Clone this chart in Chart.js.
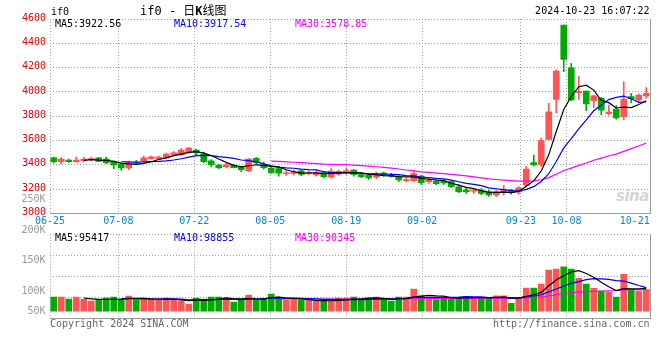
<!DOCTYPE html>
<html>
<head>
<meta charset="utf-8">
<script src="https://cdn.jsdelivr.net/npm/chart.js@4.4.1/dist/chart.umd.min.js"></script>
<style>
body { margin: 0; background: #fff; }
#wrap { position: relative; width: 660px; height: 360px; overflow: hidden; font-family: 'DejaVu Sans Mono', monospace; font-size: 10px; }
#wrap canvas { position: absolute; left: 0; }
.t { position: absolute; white-space: nowrap; line-height: 12px; }
.vl { right: 614.5px; color: #999; }
</style>
</head>
<body>
<div id="wrap">
  <canvas id="price" width="660" height="236" style="top:0"></canvas>
  <canvas id="volume" width="660" height="100" style="top:226px"></canvas>

  <div class="t" style="left:51px;top:6px;">if0</div>
  <div class="t" style="left:140px;top:3px;font-size:12px;line-height:16px;font-family:'DejaVu Sans Mono','Noto Sans CJK SC';">if0 - 日<b>K</b>线图</div>
  <div class="t" style="right:10.5px;top:5px;">2024-10-23 16:07:22</div>

  <div class="t" style="left:55px;top:18px;color:#000;">MA5:3922.56</div>
  <div class="t" style="left:174px;top:18px;color:#0000ff;">MA10:3917.54</div>
  <div class="t" style="left:295px;top:18px;color:#ff00ff;">MA30:3578.85</div>

  <div class="t" style="left:616px;top:187px;font:italic bold 15px 'DejaVu Sans';color:#d4d4d4;line-height:18px;letter-spacing:-0.5px;">sina</div>

  <div class="t vl" style="top:193px;">250K</div>
  <div class="t vl" style="top:223.5px;">200K</div>
  <div class="t vl" style="top:253.5px;">150K</div>
  <div class="t vl" style="top:284.5px;">100K</div>
  <div class="t vl" style="top:304.5px;">50K</div>

  <div class="t" style="left:55px;top:232px;color:#000;">MA5:95417</div>
  <div class="t" style="left:174px;top:232px;color:#0000ff;">MA10:98855</div>
  <div class="t" style="left:295px;top:232px;color:#ff00ff;">MA30:90345</div>

  <div class="t" style="left:50px;top:317.5px;color:#666;">Copyright 2024 SINA.COM</div>
  <div class="t" style="right:10.5px;top:317.5px;color:#666;">http://finance.sina.com.cn</div>
</div>

<script>
// x tick labels and the day index they sit on
const tickDates = ['06-25', '07-08', '07-22', '08-05', '08-19', '09-02', '09-23', '10-08', '10-21'];
const tickDays = [0, 9, 19, 29, 39, 49, 62, 68, 77];

// daily OHLC, 06-25 .. 10-23
const openP = [3457, 3426, 3440, 3426, 3434, 3443, 3457, 3448, 3426, 3405,
    3374, 3423, 3432, 3451, 3448, 3457, 3481, 3481, 3500, 3522,
    3489, 3434, 3399, 3385, 3399, 3385, 3350, 3454, 3400, 3372,
    3370, 3327, 3330, 3352, 3330, 3317, 3336, 3298, 3323, 3333,
    3358, 3320, 3316, 3298, 3333, 3317, 3303, 3270, 3270, 3308,
    3262, 3267, 3267, 3262, 3220, 3193, 3183, 3193, 3179, 3152,
    3171, 3193, 3177, 3234, 3418, 3399, 3610, 3939, 4551, 4199,
    3995, 4008, 3928, 3948, 3821, 3859, 3796, 3961, 3934, 3967];
const highP = [3465, 3462, 3448, 3465, 3462, 3465, 3460, 3465, 3434, 3410,
    3432, 3437, 3473, 3473, 3473, 3498, 3509, 3536, 3545, 3528,
    3506, 3443, 3407, 3410, 3404, 3391, 3452, 3462, 3424, 3380,
    3385, 3352, 3358, 3364, 3350, 3350, 3347, 3370, 3358, 3375,
    3363, 3330, 3325, 3341, 3341, 3330, 3311, 3290, 3352, 3317,
    3290, 3276, 3276, 3270, 3234, 3212, 3207, 3204, 3193, 3193,
    3229, 3199, 3222, 3385, 3481, 3621, 3906, 4181, 4551, 4236,
    4131, 4008, 3975, 3956, 3892, 3887, 4084, 3989, 3983, 4035];
const lowP = [3413, 3410, 3421, 3421, 3424, 3432, 3426, 3410, 3369, 3357,
    3360, 3404, 3426, 3446, 3443, 3451, 3476, 3476, 3495, 3473,
    3418, 3383, 3369, 3374, 3374, 3344, 3345, 3407, 3365, 3330,
    3308, 3314, 3316, 3311, 3320, 3308, 3292, 3290, 3316, 3323,
    3308, 3295, 3281, 3287, 3308, 3298, 3262, 3259, 3262, 3240,
    3248, 3237, 3240, 3212, 3171, 3166, 3166, 3155, 3140, 3138,
    3150, 3160, 3158, 3220, 3391, 3385, 3605, 3829, 4166, 3928,
    3939, 3846, 3870, 3810, 3810, 3775, 3769, 3911, 3911, 3948];
const closeP = [3426, 3448, 3426, 3440, 3448, 3451, 3429, 3418, 3399, 3374,
    3418, 3413, 3457, 3467, 3465, 3489, 3500, 3522, 3539, 3498,
    3426, 3401, 3377, 3401, 3377, 3360, 3448, 3418, 3378, 3336,
    3331, 3335, 3339, 3322, 3339, 3336, 3303, 3348, 3346, 3354,
    3322, 3304, 3293, 3325, 3317, 3308, 3276, 3278, 3328, 3253,
    3274, 3245, 3251, 3220, 3179, 3179, 3193, 3166, 3152, 3179,
    3193, 3171, 3212, 3366, 3399, 3599, 3837, 4172, 4268, 3934,
    4005, 3901, 3967, 3851, 3835, 3786, 3942, 3944, 3975, 3989];
const volume = [58600, 58600, 50200, 58600, 49000, 41900, 44800, 54400, 58600, 46000,
    62800, 47300, 54400, 44800, 44800, 54400, 50200, 41900, 29300, 54400,
    50200, 58600, 58600, 54400, 37700, 50200, 67000, 46000, 50200, 71200,
    58600, 46000, 46000, 46000, 46000, 41900, 41900, 41900, 54400, 54400,
    58600, 50200, 54400, 58600, 46000, 41900, 58600, 58600, 92100, 62800,
    56500, 48500, 56500, 56500, 56500, 60500, 52500, 56500, 56500, 64500,
    64500, 32500, 54000, 96300, 96300, 113000, 171700, 175900, 185500, 175900,
    138000, 113000, 96000, 84000, 80000, 59000, 154000, 90000, 84000, 90000];

const UP = '#ff5454';
const DOWN = '#00aa00';
const GRID = '#a0a0a0';
const FONT = { family: "'DejaVu Sans Mono', monospace", size: 10 };

function movingAvg(src, n) {
    return src.map((v, i) => {
        if (i < n - 1) return null;
        let s = 0;
        for (let k = i - n + 1; k <= i; k++) s += src[k];
        return s / n;
    });
}

const candleColor = (ctx) => closeP[ctx.dataIndex] >= openP[ctx.dataIndex] ? UP : DOWN;
const pts = (arr) => arr.map((v, i) => ({ x: i, y: v }));

function maLine(src, n, color) {
    return {
        type: 'line',
        data: pts(movingAvg(src, n)),
        borderColor: color,
        borderWidth: 1.2,
        pointRadius: 0,
        tension: 0,
        order: 0
    };
}

function xAxes(showLabels, axisHeight) {
    return {
        x: { type: 'linear', min: -0.5, max: 79.5, offset: false, display: false },
        xg: {
            type: 'linear', min: 0, max: 79, offset: false, position: 'bottom',
            afterBuildTicks: (scale) => { scale.ticks = tickDays.map(v => ({ value: v })); },
            afterFit: (scale) => { scale.height = axisHeight; },
            grid: {
                display: true,
                drawOnChartArea: true,
                drawTicks: false,
                offset: false,
                color: GRID,
                lineWidth: (ctx) => (ctx.tick && ctx.tick.value === 77) ? 0 : 1
            },
            border: { display: true, color: '#999', width: 1, dash: [1, 2] },
            ticks: {
                display: showLabels, autoSkip: false, maxRotation: 0, padding: 2,
                color: '#0a85d0', font: FONT,
                callback: (v, i) => tickDates[i]
            }
        }
    };
}

const rightEdge = {
    position: 'right', min: 0, max: 1, display: true,
    afterFit: (scale) => { scale.width = 10; },
    grid: { display: false },
    ticks: { display: false },
    border: { display: true, color: '#999', width: 1 }
};

new Chart(document.getElementById('price').getContext('2d'), { // eslint-disable-line
    type: 'bar',
    data: {
        datasets: [
            maLine(closeP, 5, '#000000'),
            maLine(closeP, 10, '#0000ff'),
            maLine(closeP, 30, '#ff00ff'),
            {
                data: openP.map((o, i) => ({ x: i, y: [o, closeP[i]] })),
                backgroundColor: candleColor,
                barThickness: 6,
                minBarLength: 1,
                grouped: false,
                order: 1
            },
            {
                data: lowP.map((l, i) => ({ x: i, y: [l, highP[i]] })),
                backgroundColor: candleColor,
                barThickness: 1,
                grouped: false,
                order: 2
            }
        ]
    },
    options: {
        responsive: false,
        animation: false,
        layout: { padding: { top: 19, left: 0, right: 0, bottom: 0 } },
        plugins: { legend: { display: false }, tooltip: { enabled: false } },
        scales: Object.assign(xAxes(true, 22.5), {
            y: {
                position: 'left', min: 3000, max: 4600,
                afterFit: (scale) => { scale.width = 50; },
                ticks: {
                    stepSize: 200, color: '#e60000', font: FONT, padding: 4, labelOffset: -1,
                    callback: (v) => String(v)
                },
                grid: {
                    display: true,
                    drawOnChartArea: true,
                    drawTicks: false,
                    color: GRID,
                    lineWidth: (ctx) => (ctx.tick && ctx.tick.value === 3000) ? 0 : 1
                },
                border: { display: false, dash: [1, 2] }
            },
            yr: rightEdge
        })
    }
});

new Chart(document.getElementById('volume').getContext('2d'), { // eslint-disable-line
    type: 'bar',
    data: {
        datasets: [
            maLine(volume, 5, '#000000'),
            maLine(volume, 10, '#0000ff'),
            maLine(volume, 30, '#ff00ff'),
            {
                data: pts(volume),
                backgroundColor: candleColor,
                barThickness: 6,
                grouped: false,
                order: 1
            }
        ]
    },
    options: {
        responsive: false,
        animation: false,
        layout: { padding: { top: 8.3, left: 0, right: 0, bottom: 0 } },
        plugins: { legend: { display: false }, tooltip: { enabled: false } },
        scales: Object.assign(xAxes(false, 7.7), {
            y: {
                position: 'left', min: -30000, max: 322000,
                afterFit: (scale) => { scale.width = 50; },
                ticks: { stepSize: 88000, display: false },
                grid: {
                    display: true,
                    drawOnChartArea: true,
                    drawTicks: false,
                    color: GRID,
                    lineWidth: (ctx) => (ctx.tick && ctx.tick.value === -30000) ? 0 : 1
                },
                border: { display: false, dash: [1, 2] }
            },
            yr: rightEdge
        })
    }
});
</script>
</body>
</html>
